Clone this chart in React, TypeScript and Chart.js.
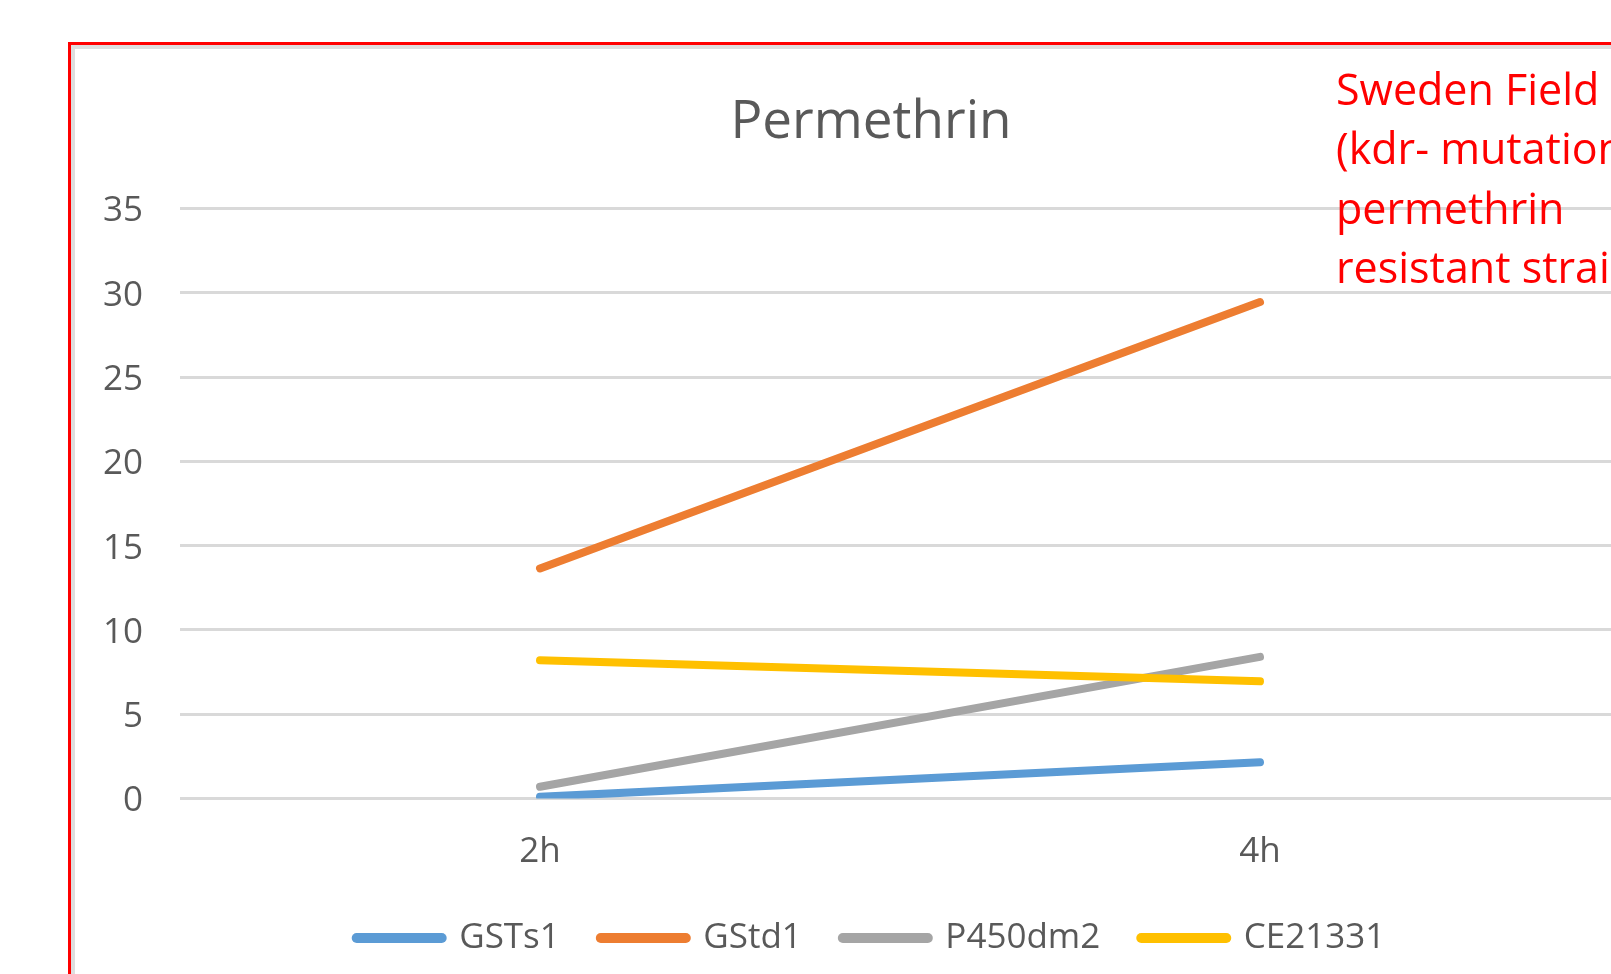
import React, { useEffect, useRef } from "react";
import { Chart, registerables } from "chart.js";

Chart.register(...registerables);

// Time points after exposure
const timePoints = ["2h", "4h"];

// Relative expression of each detoxification gene
const gsts1Values = [0.1, 2.15];
const gstd1Values = [13.65, 29.45];
const p450dm2Values = [0.7, 8.4];
const ce21331Values = [8.2, 6.95];

const seriesNames = ["GSTs1", "GStd1", "P450dm2", "CE21331"];
const seriesColors = ["#5B9BD5", "#ED7D31", "#A5A5A5", "#FFC000"];

const yTicks = [0, 5, 10, 15, 20, 25, 30, 35];

const chartTitle = "Permethrin";
const noteLines = ["Sweden Field", "(kdr- mutation,", "permethrin", "resistant strain)"];

const FONT = "'Open Sans', 'Noto Sans', sans-serif";
const TEXT_GREY = "#595959";

export default function App() {
  const canvasRef = useRef<HTMLCanvasElement | null>(null);

  useEffect(() => {
    const canvas = canvasRef.current;
    if (!canvas) return;
    const values = [gsts1Values, gstd1Values, p450dm2Values, ce21331Values];
    const chart = new Chart(canvas, {
      type: "line",
      data: {
        labels: timePoints,
        datasets: values.map((data, i) => ({
          label: seriesNames[i],
          data,
          borderColor: seriesColors[i],
          backgroundColor: seriesColors[i],
          borderWidth: 8,
          borderCapStyle: "round",
          borderJoinStyle: "round",
          pointRadius: 0,
          pointHoverRadius: 0,
          tension: 0,
          // later series are painted over earlier ones
          order: values.length - i,
        })),
      },
      options: {
        responsive: false,
        maintainAspectRatio: false,
        animation: false,
        events: [],
        layout: { padding: { left: 0, right: 0, top: 0, bottom: 4.5 } },
        plugins: {
          tooltip: { enabled: false },
          title: {
            display: true,
            text: chartTitle,
            color: TEXT_GREY,
            font: { family: FONT, size: 53, weight: "normal" },
            padding: { top: 45.7, bottom: 54.2 },
          },
          legend: {
            display: true,
            position: "bottom",
            labels: {
              color: TEXT_GREY,
              font: { family: FONT, size: 35 },
              usePointStyle: true,
              pointStyleWidth: 85,
              boxHeight: 10,
              padding: 41,
              sort: (a: any, b: any) => a.datasetIndex - b.datasetIndex,
              generateLabels: (c: any) =>
                Chart.defaults.plugins.legend.labels
                  .generateLabels(c)
                  .map((item: any) => ({
                    ...item,
                    pointStyle: "line",
                    strokeStyle: seriesColors[item.datasetIndex],
                    fillStyle: seriesColors[item.datasetIndex],
                    lineWidth: 10,
                    lineCap: "round",
                  })),
            },
          },
        },
        scales: {
          x: {
            type: "category",
            offset: true,
            grid: { display: false, drawTicks: false },
            border: { display: false },
            ticks: {
              color: TEXT_GREY,
              font: { family: FONT, size: 35 },
              padding: 33,
              maxRotation: 0,
            },
            afterFit: (scale: any) => {
              scale.height = 81;
            },
          },
          y: {
            min: 0,
            max: 35,
            afterBuildTicks: (scale: any) => {
              scale.ticks = yTicks.map((v) => ({ value: v }));
            },
            grid: { color: "#d9d9d9", lineWidth: 3, drawTicks: false },
            border: { display: false },
            ticks: {
              color: TEXT_GREY,
              font: { family: FONT, size: 35 },
              padding: 37,
              labelOffset: 3,
            },
            afterFit: (scale: any) => {
              scale.width = 105;
            },
          },
          // empty right-hand margin of the plot
          yRight: {
            type: "linear",
            position: "right",
            min: 0,
            max: 35,
            grid: { display: false, drawTicks: false },
            border: { display: false },
            ticks: { display: false },
            afterFit: (scale: any) => {
              scale.width = 47;
            },
          },
        },
      },
    });
    return () => chart.destroy();
  }, []);

  return (
    <div
      style={{
        position: "fixed",
        left: 0,
        top: 0,
        width: 1611,
        height: 974,
        overflow: "hidden",
        background: "#ffffff",
      }}
    >
      <div
        style={{
          position: "absolute",
          left: 68,
          top: 42,
          width: 1700,
          height: 1000,
          border: "3px solid #ff0000",
          boxSizing: "border-box",
        }}
      />
      <div
        style={{
          position: "absolute",
          left: 71,
          top: 45,
          width: 1700,
          height: 1000,
          border: "4px solid #dedede",
          boxSizing: "border-box",
        }}
      />
      <canvas
        ref={canvasRef}
        width={1592}
        height={925}
        style={{ position: "absolute", left: 75, top: 45, width: 1592, height: 925 }}
      />
      <div
        style={{
          position: "absolute",
          left: 1336,
          top: 58.6,
          color: "#ff0000",
          fontFamily: FONT,
          fontSize: 43,
          lineHeight: "59.5px",
          whiteSpace: "pre",
        }}
      >
        {noteLines.join("\n")}
      </div>
    </div>
  );
}
